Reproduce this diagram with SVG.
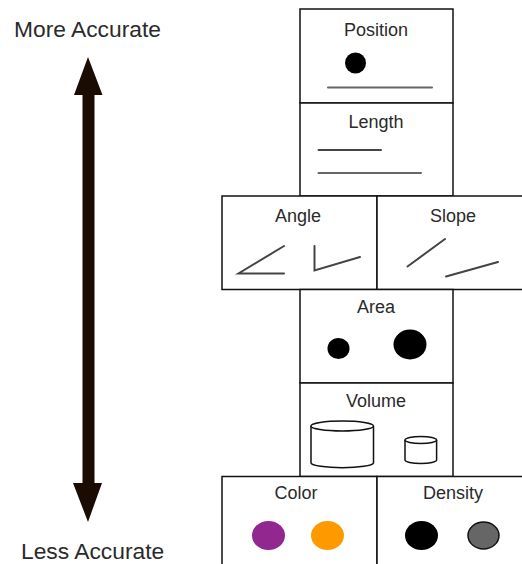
<svg xmlns="http://www.w3.org/2000/svg" width="522" height="564" viewBox="0 0 522 564">
<style>
.box{fill:#fff;stroke:#111;stroke-width:1.5}
.lbl{font-family:"Liberation Sans",Arial,sans-serif;font-size:18px;fill:#2a2a2a;text-anchor:middle}
.big{font-family:"Liberation Sans",Arial,sans-serif;font-size:22.8px;fill:#2a2a2a}
.ln{stroke:#444;stroke-width:2;fill:none;stroke-linecap:round}
.lg{stroke:#666;stroke-width:2;fill:none;stroke-linecap:round}
.cyl{fill:#fff;stroke:#111;stroke-width:1.5}
</style>
<rect width="522" height="564" fill="#fff"/>
<g id="scale">
<text class="big" x="14" y="36.5">More Accurate</text>
<text class="big" x="21" y="559">Less Accurate</text>
<path d="M88,57 L102.5,95 L94.5,95 L94.5,483 L102,483 L88,522 L73,483 L82.5,483 L82.5,95 L74,95 Z" fill="#1a0b03"/>
</g>
<g id="position">
<rect class="box" x="300" y="9" width="153" height="94"/>
<text class="lbl" x="376" y="36">Position</text>
<circle cx="355.5" cy="63" r="10.5" fill="#000"/>
<line class="lg" x1="328" y1="87.5" x2="432" y2="87.5"/>
</g>
<g id="length">
<rect class="box" x="300" y="103" width="153" height="93"/>
<text class="lbl" x="376" y="128">Length</text>
<line class="ln" x1="318.5" y1="150" x2="381" y2="150"/>
<line class="lg" x1="318.5" y1="173" x2="421" y2="173"/>
</g>
<g id="angle">
<rect class="box" x="222" y="196" width="155" height="93.5"/>
<text class="lbl" x="298" y="222">Angle</text>
<polyline class="ln" points="284,246 238.5,273.5 284,273.5"/>
<polyline class="ln" points="314.5,246 314.5,270.5 360,257"/>
</g>
<g id="slope">
<rect class="box" x="377" y="196" width="155" height="93.5"/>
<text class="lbl" x="453" y="222">Slope</text>
<line class="ln" x1="407.5" y1="266.5" x2="445" y2="239"/>
<line class="ln" x1="446" y1="276.5" x2="498" y2="262"/>
</g>
<g id="area">
<rect class="box" x="300" y="289.5" width="153" height="93.5"/>
<text class="lbl" x="376" y="312.5">Area</text>
<ellipse cx="338.5" cy="348.5" rx="11" ry="10.5" fill="#000"/>
<ellipse cx="410" cy="344.5" rx="16.5" ry="15" fill="#000"/>
</g>
<g id="volume">
<rect class="box" x="300" y="383" width="153" height="93.5"/>
<text class="lbl" x="376" y="406.5">Volume</text>
<path class="cyl" d="M311,426 L311,463 A31.3,5 0 0 0 373.5,463 L373.5,426"/>
<ellipse class="cyl" cx="342.2" cy="426" rx="31.3" ry="5"/>
<path class="cyl" d="M405,440 L405,460 A15.8,3.5 0 0 0 436.6,460 L436.6,440"/>
<ellipse class="cyl" cx="420.8" cy="440" rx="15.8" ry="3.5"/>
</g>
<g id="color">
<rect class="box" x="222" y="476.5" width="155" height="100"/>
<text class="lbl" x="296" y="498.5">Color</text>
<ellipse cx="268.5" cy="535.5" rx="16.5" ry="14.5" fill="#92278f"/>
<ellipse cx="327.5" cy="535.5" rx="16.5" ry="14.5" fill="#ff9900"/>
</g>
<g id="density">
<rect class="box" x="377" y="476.5" width="155" height="100"/>
<text class="lbl" x="453" y="498.5">Density</text>
<ellipse cx="421.5" cy="535.5" rx="16.5" ry="14.5" fill="#000"/>
<ellipse cx="483.5" cy="535.5" rx="15.5" ry="13.5" fill="#666" stroke="#111" stroke-width="1.5"/>
</g>
<g id="connectors"></g>
</svg>
